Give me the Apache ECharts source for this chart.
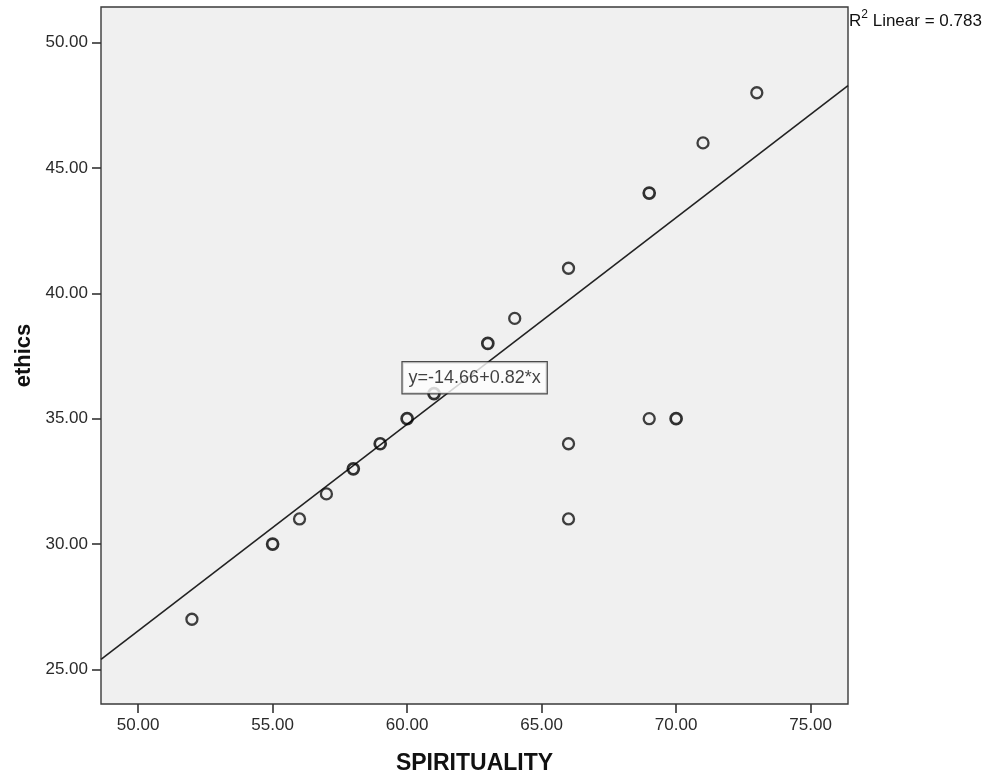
<!DOCTYPE html>
<html>
<head>
<meta charset="utf-8">
<script src="https://cdn.jsdelivr.net/npm/echarts@6/dist/echarts.min.js"></script>
<style>html,body{margin:0;padding:0;background:#fff}#c{width:987px;height:780px}</style>
</head>
<body>
<div id="c"></div>
<script>
// Data
var spirituality = [52, 55, 56, 57, 58, 59, 60, 61, 63, 64, 66, 69, 71, 73, 66, 66, 69, 70];
var ethics       = [27, 30, 31, 32, 33, 34, 35, 36, 38, 39, 41, 44, 46, 48, 34, 31, 35, 35];
var caseCount    = [1,  2,  1,  1,  2,  2,  2,  2,  2,  1,  1,  2,  1,  1,  1,  1,  1,  2];
var xTicks = [50, 55, 60, 65, 70, 75];
var yTicks = [25, 30, 35, 40, 45, 50];
var lineIntercept = -14.66;
var lineSlope = 0.824;
var equationText = 'y=-14.66+0.82*x';
var equationPos = [62.51, 36.63];
var rSquared = '0.783';
var xName = 'SPIRITUALITY';
var yName = 'ethics';

var xMin = 48.62, xMax = 76.39, yMin = 23.62, yMax = 51.42;

var pts = spirituality.map(function (x, i) {
  return {
    value: [x, ethics[i]],
    itemStyle: {
      borderColor: caseCount[i] > 1 ? '#000' : '#111',
      borderWidth: caseCount[i] > 1 ? 2.7 : 2.3
    }
  };
});
var fitLine = [[xMin, lineIntercept + lineSlope * xMin], [xMax, lineIntercept + lineSlope * xMax]];

var FONT = '"Liberation Sans", Arial, sans-serif';
var chart = echarts.init(document.getElementById('c'), null, {renderer: 'canvas'});
chart.setOption({
  animation: false,
  backgroundColor: '#ffffff',
  grid: {
    left: 101, top: 7, right: 139, bottom: 73,
    show: true, backgroundColor: '#f0f0f0', borderColor: '#3a3a3a', borderWidth: 1.4
  },
  xAxis: {
    type: 'value', min: xMin, max: xMax,
    name: xName, nameLocation: 'middle', nameGap: 48,
    nameTextStyle: {fontFamily: FONT, fontSize: 23, fontWeight: 'bold', color: '#111'},
    axisLine: {show: false},
    splitLine: {show: false},
    axisTick: {show: true, customValues: xTicks, length: 9, inside: false, lineStyle: {color: '#333', width: 1.6}},
    axisLabel: {customValues: xTicks, formatter: function (v) { return v.toFixed(2); },
      fontFamily: FONT, fontSize: 17, color: '#2a2a2a', margin: 13}
  },
  yAxis: {
    type: 'value', min: yMin, max: yMax,
    name: yName, nameLocation: 'middle', nameGap: 66, nameRotate: 90,
    nameTextStyle: {fontFamily: FONT, fontSize: 22, fontWeight: 'bold', color: '#111'},
    axisLine: {show: false},
    splitLine: {show: false},
    axisTick: {show: true, customValues: yTicks, length: 9, lineStyle: {color: '#333', width: 1.6}},
    axisLabel: {customValues: yTicks, formatter: function (v) { return v.toFixed(2); },
      fontFamily: FONT, fontSize: 17, color: '#2a2a2a', margin: 13}
  },
  series: [
    {
      type: 'line', data: fitLine, symbol: 'none', silent: true, z: 2,
      lineStyle: {color: '#222', width: 1.6}
    },
    {
      type: 'scatter', data: pts, symbol: 'circle', symbolSize: 11, z: 3,
      itemStyle: {color: 'rgba(0,0,0,0)'}
    },
    {
      type: 'scatter', data: [equationPos], symbolSize: 0, z: 5, silent: true,
      label: {
        show: true, position: 'inside', formatter: equationText,
        fontFamily: FONT, fontSize: 18, color: '#111',
        backgroundColor: '#fff', borderColor: '#222', borderWidth: 1.2,
        padding: [7, 6, 6, 6]
      }
    }
  ],
  graphic: [{
    type: 'text', left: 849, top: 9, z: 10,
    style: {
      text: '{s|R}{sup|2}{s| Linear = ' + rSquared + '}',
      rich: {
        s: {fontFamily: FONT, fontSize: 17, fill: '#111', verticalAlign: 'bottom', lineHeight: 21},
        sup: {fontFamily: FONT, fontSize: 12, fill: '#111', verticalAlign: 'top', lineHeight: 21, padding: [0, 0, 8, 0]}
      }
    }
  }]
});
</script>
</body>
</html>
